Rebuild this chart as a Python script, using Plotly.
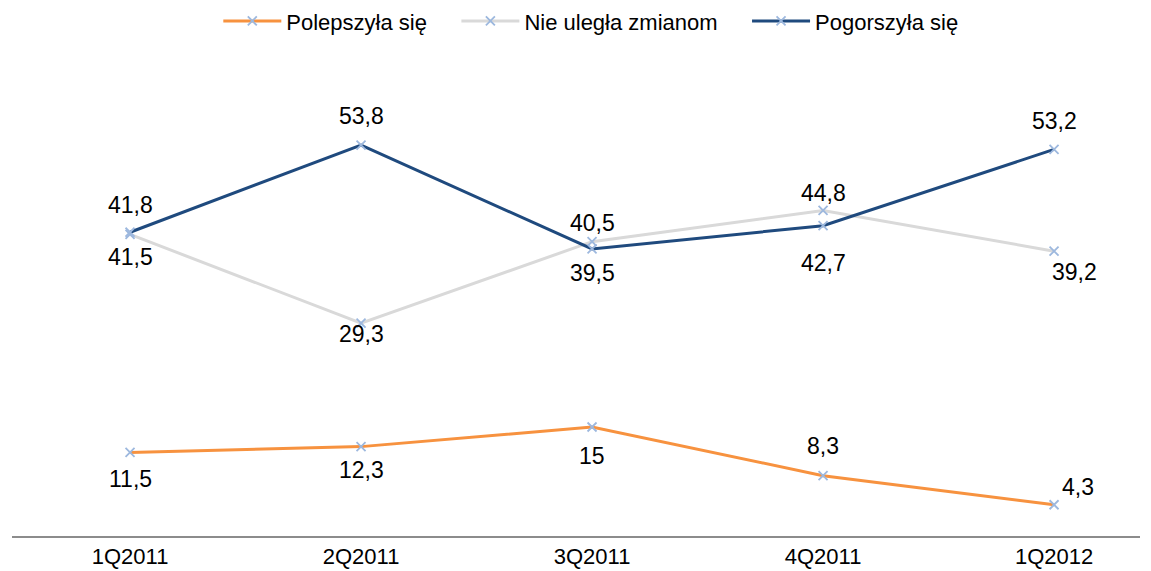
import plotly.graph_objects as go

categories = ["1Q2011", "2Q2011", "3Q2011", "4Q2011", "1Q2012"]
polepszyla = [11.5, 12.3, 15, 8.3, 4.3]
nie_ulegla = [41.5, 29.3, 40.5, 44.8, 39.2]
pogorszyla = [41.8, 53.8, 39.5, 42.7, 53.2]
series_names = ["Polepszyła się", "Nie uległa zmianom", "Pogorszyła się"]

# label offsets in pixels (dx right, dy down) – styling only
off_pol = [(0, 27), (0, 23), (0, 29), (0, -30), (24, -18)]
off_nie = [(0, 23), (0, 11), (0, -19), (0, -17), (20, 21)]
off_pog = [(0, -27), (0, -29), (0, 24), (0, 37), (0, -28)]

FONT = "Liberation Sans, Arial, sans-serif"
PAD = "\u00a0\u00a0\u00a0\u00a0"  # extra spacing between legend entries

def fmt(v):
    return f"{v:g}".replace(".", ",")

marker = dict(symbol="x-thin", size=9, line=dict(width=1.8, color="#9db8de"), color="#9db8de")

fig = go.Figure()
annotations = []
for i, (name, vals, offs, col) in enumerate([
    (series_names[0], polepszyla, off_pol, "#f7923f"),
    (series_names[1], nie_ulegla, off_nie, "#d9d9d9"),
    (series_names[2], pogorszyla, off_pog, "#1f4a7e"),
]):
    fig.add_trace(go.Scatter(
        x=categories, y=vals, name=name + (PAD if i < 2 else ""),
        mode="lines+markers",
        line=dict(color=col, width=3),
        marker=marker,
        cliponaxis=False,
    ))
    for c, v, (dx, dy) in zip(categories, vals, offs):
        annotations.append(dict(
            x=c, y=v, xref="x", yref="y", text=fmt(v), showarrow=False,
            xanchor="center", yanchor="middle", xshift=dx, yshift=-dy,
            font=dict(family=FONT, size=23, color="#000000"),
        ))

# page body adds an 8px offset; figure sized to fit the window
fig.update_layout(
    width=1143, height=563,
    paper_bgcolor="white", plot_bgcolor="white",
    margin=dict(l=4, r=11, t=92, b=35, autoexpand=False),
    font=dict(family=FONT, size=22, color="#000000"),
    showlegend=True,
    legend=dict(orientation="h", x=0.184, xref="container", xanchor="left",
                y=1.229, yref="paper", yanchor="top",
                font=dict(family=FONT, size=22, color="#000000"),
                itemwidth=58, tracegroupgap=0),
    annotations=annotations,
    xaxis=dict(type="category", range=[-0.511, 4.372], showgrid=False, zeroline=False,
               showline=True, linecolor="#8c8c8c", linewidth=2, ticks="",
               tickfont=dict(family=FONT, size=22, color="#000000")),
    yaxis=dict(range=[0, 60], visible=False, showgrid=False, zeroline=False),
)

fig.write_html("out.html")
